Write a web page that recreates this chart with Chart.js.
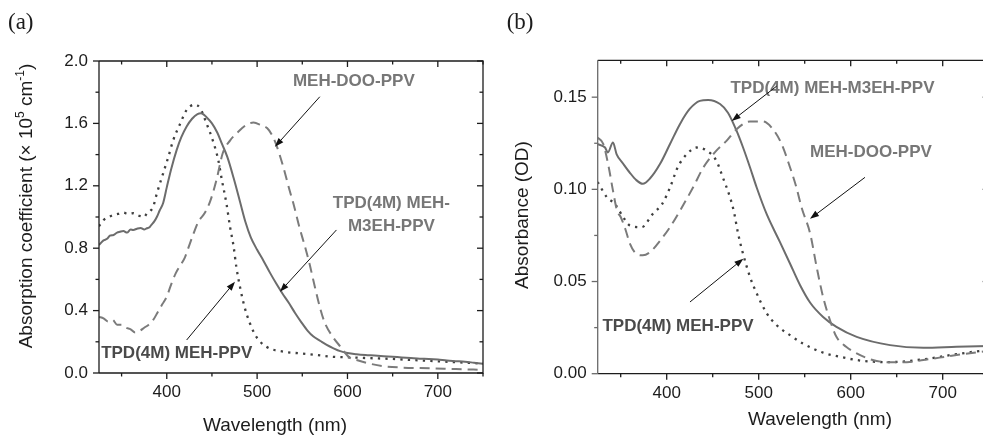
<!DOCTYPE html>
<html lang="en">
<head>
  <meta charset="UTF-8">
  <title>Absorption spectra</title>
  <script src="https://cdn.jsdelivr.net/npm/chart.js"></script>
  <style>
    html, body { margin: 0; padding: 0; background: #fff; overflow: hidden; }
    body { width: 983px; height: 435px; position: relative; }
    .panel { position: absolute; top: 0; height: 435px; }
    #panelA { left: 0; width: 490px; }
    #panelB { left: 490px; width: 510px; }
  </style>
</head>
<body>
<div class="panel" id="panelA"><canvas id="chartA"></canvas></div>
<div class="panel" id="panelB"><canvas id="chartB"></canvas></div>

<script>
  // ---- panel (a): absorption coefficient, x 10^5 cm^-1 ----
  const aM3ehNm  = [325, 330, 334, 337, 341, 345, 348, 352, 356, 360, 363, 367, 371, 375, 378, 381, 383, 386, 389, 392, 396, 400, 405, 411, 416, 422, 428, 434, 438, 444, 450, 456, 461, 467, 474, 481, 487, 493, 500, 507, 514, 521, 528, 535, 542, 549, 556, 562, 570, 577, 584, 592, 600, 610, 620, 630, 640, 650, 660, 670, 680, 690, 700, 710, 720, 730, 740, 750];
  const aM3ehVal = [0.82, 0.85, 0.86, 0.88, 0.885, 0.90, 0.905, 0.91, 0.90, 0.92, 0.917, 0.925, 0.93, 0.92, 0.928, 0.935, 0.95, 0.97, 1.0, 1.04, 1.09, 1.19, 1.31, 1.43, 1.51, 1.58, 1.63, 1.66, 1.665, 1.64, 1.60, 1.54, 1.47, 1.385, 1.25, 1.10, 0.97, 0.87, 0.79, 0.72, 0.645, 0.575, 0.51, 0.45, 0.385, 0.325, 0.27, 0.235, 0.205, 0.18, 0.16, 0.14, 0.128, 0.12, 0.115, 0.112, 0.108, 0.104, 0.10, 0.096, 0.092, 0.09, 0.086, 0.08, 0.076, 0.072, 0.066, 0.06];

  const aPpvNm  = [325, 330, 336, 341, 346, 352, 357, 363, 367, 371, 375, 378, 382, 385, 389, 396, 402, 407, 415, 422, 431, 437, 444, 451, 457, 461, 466, 470, 474, 477, 481, 486, 492, 499, 510, 529, 547, 566, 584, 602, 625, 650, 675, 700, 725, 750];
  const aPpvVal = [0.94, 0.98, 1.0, 1.013, 1.02, 1.028, 1.02, 1.024, 1.01, 1.006, 1.0, 1.024, 1.04, 1.066, 1.15, 1.28, 1.39, 1.49, 1.60, 1.686, 1.72, 1.697, 1.60, 1.49, 1.365, 1.237, 1.088, 0.938, 0.81, 0.68, 0.553, 0.425, 0.319, 0.233, 0.169, 0.137, 0.126, 0.115, 0.104, 0.10, 0.095, 0.09, 0.082, 0.075, 0.068, 0.06];

  const aDooNm  = [325, 330, 335, 340, 345, 350, 355, 360, 365, 370, 375, 380, 385, 390, 395, 400, 405, 410, 415, 420, 425, 430, 435, 442, 448, 455, 462, 470, 478, 488, 496, 504, 511, 517, 522, 529, 536, 540, 547, 553, 558, 564, 570, 575, 584, 592, 602, 612, 621, 638, 660, 693, 720, 750];
  const aDooVal = [0.36, 0.35, 0.33, 0.34, 0.31, 0.31, 0.29, 0.28, 0.26, 0.27, 0.29, 0.31, 0.34, 0.39, 0.44, 0.49, 0.57, 0.64, 0.69, 0.74, 0.82, 0.90, 0.97, 1.025, 1.10, 1.237, 1.41, 1.49, 1.54, 1.59, 1.605, 1.59, 1.57, 1.52, 1.45, 1.32, 1.17, 1.09, 0.93, 0.81, 0.70, 0.55, 0.41, 0.32, 0.23, 0.17, 0.10, 0.08, 0.065, 0.045, 0.035, 0.03, 0.025, 0.02];

  // ---- panel (b): absorbance, OD ----
  const bM3ehNm  = [325, 333, 336, 341.6, 345.6, 352.7, 360, 367, 374, 382, 393, 403.6, 414.5, 425, 436, 445, 458, 466.6, 476, 483, 490.5, 497.8, 508.7, 523, 534, 545, 556, 570, 584.5, 606.5, 642.8, 679, 715, 750];
  const bM3ehVal = [0.1245, 0.1227, 0.12, 0.1254, 0.119, 0.1139, 0.109, 0.105, 0.103, 0.106, 0.114, 0.1246, 0.1355, 0.1436, 0.148, 0.1485, 0.1463, 0.1416, 0.1317, 0.1227, 0.112, 0.101, 0.0865, 0.0715, 0.0598, 0.048, 0.0385, 0.0308, 0.0254, 0.02, 0.0155, 0.0141, 0.0146, 0.015];

  const bPpvNm  = [325, 335, 344, 352.7, 360, 372.8, 385, 395, 403.6, 412, 421.7, 432.6, 443.5, 454, 461, 468.8, 473, 477.6, 483, 490.6, 497.8, 508.7, 519.6, 534, 548, 570, 588, 606.5, 625, 643, 679, 715, 750];
  const bPpvVal = [0.104, 0.0957, 0.092, 0.0849, 0.0804, 0.0795, 0.0868, 0.092, 0.101, 0.112, 0.119, 0.1227, 0.121, 0.1155, 0.1065, 0.0957, 0.088, 0.076, 0.065, 0.0524, 0.0436, 0.0328, 0.0263, 0.0209, 0.0164, 0.0114, 0.0092, 0.0074, 0.0065, 0.0063, 0.0078, 0.0106, 0.013];

  const bDooNm  = [325, 331, 337, 341.6, 346, 350, 355, 360, 367, 374, 382, 393, 403.6, 414.5, 428.6, 440, 454, 465, 476, 490.5, 504.7, 515.5, 525, 534, 541, 546.7, 556, 563, 570, 577.5, 584.5, 595, 606.5, 624, 643, 661, 679, 715, 750];
  const bDooVal = [0.128, 0.1247, 0.112, 0.0993, 0.0885, 0.085, 0.0785, 0.0706, 0.065, 0.0642, 0.066, 0.0723, 0.0795, 0.0885, 0.101, 0.112, 0.121, 0.1263, 0.1326, 0.1368, 0.1368, 0.1326, 0.1245, 0.112, 0.101, 0.09, 0.0759, 0.0578, 0.0416, 0.029, 0.02, 0.0146, 0.011, 0.0074, 0.0062, 0.0062, 0.0074, 0.0101, 0.0124];

  // axis ticks
  const xMajor = [400, 500, 600, 700];
  const xMinor = [350, 450, 550, 650, 750];
  const aYMajor = [0, 0.4, 0.8, 1.2, 1.6, 2.0];
  const aYMinor = [0.2, 0.6, 1.0, 1.4, 1.8];
  const bYMajor = [0, 0.05, 0.10, 0.15];
  const bYMinor = [0.025, 0.075, 0.125];

  const SANS = '"Liberation Sans", Arial, Helvetica, sans-serif';
  const SERIF = '"Liberation Serif", "Times New Roman", serif';

  const toPoints = (xs, ys) => xs.map((x, i) => ({ x: x, y: ys[i] }));

  const lineStyles = {
    solid:  { borderColor: '#6c6c6c', borderWidth: 2 },
    dashed: { borderColor: '#7b7b7b', borderWidth: 2, borderDash: [10, 6] },
    dotted: { borderColor: '#3f3f3f', borderWidth: 2.3, borderDash: [2.3, 5.2] }
  };

  function series(label, xs, ys, style) {
    return Object.assign({
      label: label,
      data: toPoints(xs, ys),
      pointRadius: 0,
      fill: false,
      cubicInterpolationMode: 'monotone'
    }, lineStyles[style]);
  }

  // text made of runs (for superscripts), centred on (cx, cy), optionally rotated
  function drawRuns(ctx, runs, cx, cy, angle) {
    ctx.save();
    ctx.translate(cx, cy);
    ctx.rotate(angle);
    ctx.textBaseline = 'alphabetic';
    ctx.textAlign = 'left';
    let total = 0;
    runs.forEach(r => { ctx.font = r.size + 'px ' + SANS; total += ctx.measureText(r.t).width; });
    let x = -total / 2;
    runs.forEach(r => {
      ctx.font = r.size + 'px ' + SANS;
      ctx.fillText(r.t, x, 6.5 - (r.up || 0));
      x += ctx.measureText(r.t).width;
    });
    ctx.restore();
  }

  function drawArrow(ctx, x1, y1, x2, y2) {
    const ang = Math.atan2(y2 - y1, x2 - x1);
    const len = 9, half = 3.2;
    ctx.beginPath();
    ctx.moveTo(x1, y1);
    ctx.lineTo(x2 - Math.cos(ang) * len * 0.8, y2 - Math.sin(ang) * len * 0.8);
    ctx.stroke();
    ctx.beginPath();
    ctx.moveTo(x2, y2);
    ctx.lineTo(x2 - Math.cos(ang) * len - Math.sin(ang) * half, y2 - Math.sin(ang) * len + Math.cos(ang) * half);
    ctx.lineTo(x2 - Math.cos(ang) * len + Math.sin(ang) * half, y2 - Math.sin(ang) * len - Math.cos(ang) * half);
    ctx.closePath();
    ctx.fill();
  }

  // frame, inward/outward ticks, titles, notes and arrows
  const decorPlugin = {
    id: 'decor',
    afterDraw(chart) {
      const f = chart.options.plugins.decor;
      const { ctx, chartArea: a } = chart;
      const xs = chart.scales.x, ys = chart.scales.y;
      ctx.save();

      // frame
      ctx.lineWidth = 1.3;
      ctx.strokeStyle = '#1c1c1c';
      ctx.beginPath();
      ctx.moveTo(a.left, a.top); ctx.lineTo(a.right, a.top);
      ctx.lineTo(a.right, a.bottom); ctx.lineTo(a.left, a.bottom);
      ctx.stroke();

      const tick = (x1, y1, x2, y2) => { ctx.beginPath(); ctx.moveTo(x1, y1); ctx.lineTo(x2, y2); ctx.stroke(); };
      xMajor.forEach(v => { const p = xs.getPixelForValue(v); tick(p, a.bottom, p, a.bottom + 6); tick(p, a.top, p, a.top + 6); });
      xMinor.forEach(v => { const p = xs.getPixelForValue(v); tick(p, a.bottom, p, a.bottom + 3.5); tick(p, a.top, p, a.top + 3.5); });
      f.yMinor.forEach(v => { const p = ys.getPixelForValue(v); tick(a.right, p, a.right - 3.5, p); });
      f.yMajor.forEach(v => { const p = ys.getPixelForValue(v); tick(a.right, p, a.right - 6, p); });

      ctx.strokeStyle = f.leftColor;
      tick(a.left, a.top, a.left, a.bottom);
      f.yMajor.forEach(v => { const p = ys.getPixelForValue(v); tick(a.left, p, a.left - 6, p); });
      f.yMinor.forEach(v => { const p = ys.getPixelForValue(v); tick(a.left, p, a.left - 3.5, p); });

      // axis titles
      ctx.fillStyle = '#1c1c1c';
      drawRuns(ctx, f.yTitle, f.yTitlePos[0], f.yTitlePos[1], -Math.PI / 2);
      drawRuns(ctx, [{ t: 'Wavelength (nm)', size: 19 }], f.xTitlePos[0], f.xTitlePos[1], 0);

      // panel letter
      ctx.font = '23px ' + SERIF;
      ctx.textAlign = 'left';
      ctx.textBaseline = 'middle';
      ctx.fillText(f.letter, f.letterX, 23);

      // notes
      ctx.font = 'bold 17px ' + SANS;
      ctx.textAlign = 'center';
      f.notes.forEach(n => {
        ctx.fillStyle = n.color;
        ctx.fillText(n.text, xs.getPixelForValue(n.x), ys.getPixelForValue(n.y));
      });

      // arrows
      ctx.strokeStyle = '#111';
      ctx.fillStyle = '#111';
      ctx.lineWidth = 1;
      f.arrows.forEach(r => {
        drawArrow(ctx, xs.getPixelForValue(r[0]), ys.getPixelForValue(r[1]),
                       xs.getPixelForValue(r[2]), ys.getPixelForValue(r[3]));
      });
      ctx.restore();
    }
  };

  function makeChart(id, p) {
    return new Chart(document.getElementById(id), {
      type: 'line',
      data: { datasets: p.datasets },
      options: {
        responsive: true,
        maintainAspectRatio: false,
        animation: false,
        layout: { padding: p.padding },
        plugins: {
          legend: { display: false },
          tooltip: { enabled: false },
          decor: p.decor
        },
        scales: {
          x: {
            type: 'linear',
            min: 325, max: 750,
            afterBuildTicks: s => { s.ticks = xMajor.map(v => ({ value: v })); },
            afterFit: s => { s.height = p.xHeight; },
            grid: { display: false, drawTicks: false, tickLength: 0 },
            border: { display: false },
            ticks: { font: { family: SANS, size: 17 }, color: '#1c1c1c', padding: 9, maxRotation: 0 }
          },
          y: {
            type: 'linear',
            min: 0, max: p.yMax,
            afterBuildTicks: s => { s.ticks = p.decor.yMajor.map(v => ({ value: v })); },
            afterFit: s => { s.width = p.yWidth; },
            grid: { display: false, drawTicks: false, tickLength: 0 },
            border: { display: false },
            ticks: {
              font: { family: SANS, size: 17 }, color: '#1c1c1c', padding: 11,
              callback: v => v.toFixed(p.digits)
            }
          }
        }
      },
      plugins: [decorPlugin]
    });
  }

  makeChart('chartA', {
    datasets: [
      series('MEH-DOO-PPV', aDooNm, aDooVal, 'dashed'),
      series('TPD(4M) MEH-M3EH-PPV', aM3ehNm, aM3ehVal, 'solid'),
      series('TPD(4M) MEH-PPV', aPpvNm, aPpvVal, 'dotted')
    ],
    padding: { left: 0, top: 61, right: 7, bottom: 0 },
    yWidth: 99, xHeight: 62, yMax: 2.0, digits: 1,
    decor: {
      yMajor: aYMajor, yMinor: aYMinor, leftColor: '#1c1c1c',
      letter: '(a)', letterX: 8,
      yTitle: [
        { t: 'Absorption coefficient (\u00d7 10', size: 19 },
        { t: '5', size: 12, up: 8 },
        { t: ' cm', size: 19 },
        { t: '-1', size: 12, up: 8 },
        { t: ')', size: 19 }
      ],
      yTitlePos: [25, 206],
      xTitlePos: [275, 424],
      notes: [
        { text: 'MEH-DOO-PPV', x: 607, y: 1.867, color: '#777' },
        { text: 'TPD(4M) MEH-', x: 648.6, y: 1.09, color: '#777' },
        { text: 'M3EH-PPV', x: 648.6, y: 0.942, color: '#777' },
        { text: 'TPD(4M) MEH-PPV', x: 411, y: 0.128, color: '#4a4a4a' }
      ],
      arrows: [
        [569.4, 1.771, 519.7, 1.45],
        [587.8, 0.917, 525.2, 0.521],
        [422, 0.2115, 475.5, 0.585]
      ]
    }
  });

  makeChart('chartB', {
    datasets: [
      series('MEH-DOO-PPV', bDooNm, bDooVal, 'dashed'),
      series('TPD(4M) MEH-M3EH-PPV', bM3ehNm, bM3ehVal, 'solid'),
      series('TPD(4M) MEH-PPV', bPpvNm, bPpvVal, 'dotted')
    ],
    padding: { left: 0, top: 60.3, right: 11.3, bottom: 0 },
    yWidth: 107.7, xHeight: 61.3, yMax: 0.17, digits: 2,
    decor: {
      yMajor: bYMajor, yMinor: bYMinor, leftColor: '#6a6a6a',
      letter: '(b)', letterX: 16.7,
      yTitle: [{ t: 'Absorbance (OD)', size: 19 }],
      yTitlePos: [31.7, 215],
      xTitlePos: [330, 418],
      notes: [
        { text: 'TPD(4M) MEH-M3EH-PPV', x: 580.2, y: 0.1546, color: '#777' },
        { text: 'MEH-DOO-PPV', x: 622, y: 0.12, color: '#777' },
        { text: 'TPD(4M) MEH-PPV', x: 412.3, y: 0.0258, color: '#4a4a4a' }
      ],
      arrows: [
        [519.6, 0.156, 470.7, 0.1371],
        [615.5, 0.1065, 555.8, 0.084],
        [425.3, 0.0389, 483.3, 0.0624]
      ]
    }
  });
</script>
</body>
</html>
